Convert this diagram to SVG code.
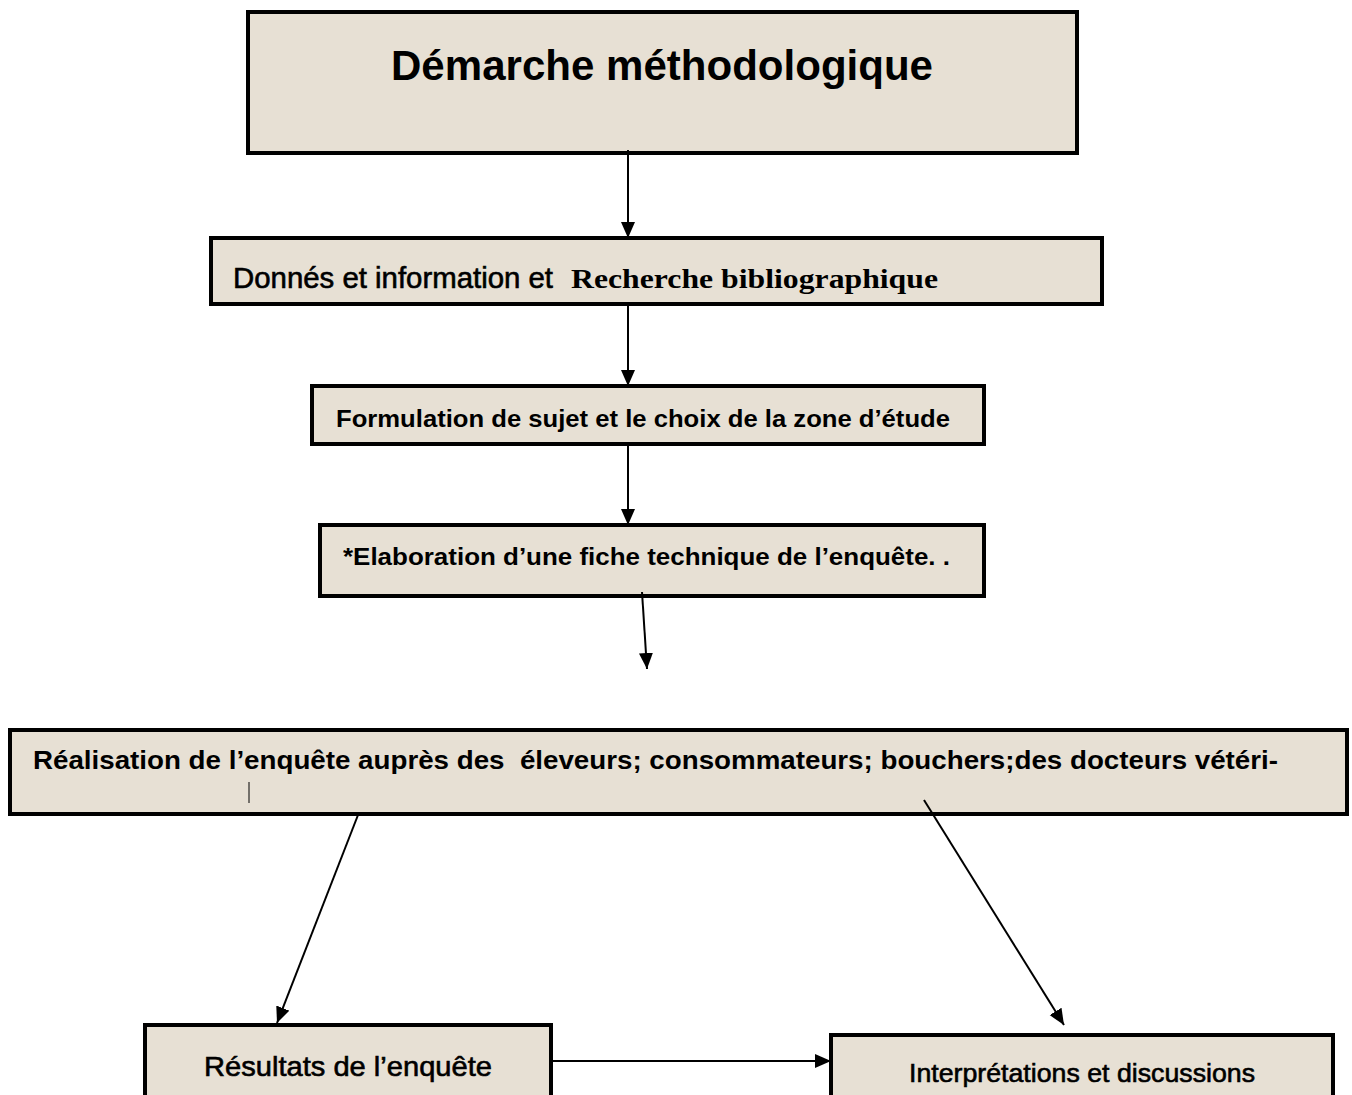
<svg xmlns="http://www.w3.org/2000/svg" width="1352" height="1095" viewBox="0 0 1352 1095">
<style>
.box{fill:#e7e0d4;stroke:#000;stroke-width:4}
.cal{font-family:"Liberation Sans","Open Sans",sans-serif;font-weight:bold;fill:#000}
.nar{font-family:"Liberation Sans",Arial,sans-serif;fill:#000;stroke:#000;stroke-width:0.6}
.tms{font-family:"Liberation Serif","Times New Roman",serif;font-weight:bold;fill:#000;stroke:none}
.con{stroke:#000;stroke-width:2;fill:none;marker-end:url(#ah)}
</style>
<defs>
<marker id="ah" markerUnits="userSpaceOnUse" markerWidth="18" markerHeight="16" refX="16" refY="7" orient="auto">
<path d="M0,0 L16,7 L0,14 Z" fill="#000"/>
</marker>
</defs>
<g id="n1"><rect class="box" x="248" y="12" width="829" height="141"/>
<text class="cal" x="391" y="80" font-size="43" textLength="542" lengthAdjust="spacingAndGlyphs">Démarche méthodologique</text></g>
<g id="n2"><rect class="box" x="211" y="238" width="891" height="66"/>
<text x="233" y="288"><tspan class="nar" font-size="29" textLength="320" lengthAdjust="spacingAndGlyphs">Donnés et information et</tspan><tspan class="tms" x="571" font-size="28" textLength="367" lengthAdjust="spacingAndGlyphs">Recherche bibliographique</tspan></text></g>
<g id="n3"><rect class="box" x="312" y="386" width="672" height="58"/>
<text class="cal" x="336" y="427" font-size="24" textLength="614" lengthAdjust="spacingAndGlyphs">Formulation de sujet et le choix de la zone d’étude</text></g>
<g id="n4"><rect class="box" x="320" y="525" width="664" height="71"/>
<text class="cal" x="343" y="565" font-size="24" textLength="607" lengthAdjust="spacingAndGlyphs">*Elaboration d’une fiche technique de l’enquête. .</text></g>
<g id="n5"><rect class="box" x="10" y="730" width="1337" height="84"/>
<text class="cal" x="33" y="769" font-size="25" textLength="1245" lengthAdjust="spacingAndGlyphs">Réalisation de l’enquête auprès des &#160;éleveurs; consommateurs; bouchers;des docteurs vétéri-</text>
<line x1="249" y1="782" x2="249" y2="803" stroke="#000" stroke-width="1"/></g>
<g id="n6"><rect class="box" x="145" y="1025" width="406" height="74"/>
<text class="nar" x="204" y="1076" font-size="28" textLength="288" lengthAdjust="spacingAndGlyphs">Résultats de l’enquête</text></g>
<g id="n7"><rect class="box" x="831" y="1035" width="502" height="64"/>
<text class="nar" x="909" y="1082" font-size="26" textLength="346" lengthAdjust="spacingAndGlyphs">Interprétations et discussions</text></g>
<g id="connectors">
<line class="con" x1="628" y1="150" x2="628" y2="238"/>
<line class="con" x1="628" y1="304" x2="628" y2="386"/>
<line class="con" x1="628" y1="444" x2="628" y2="525"/>
<line class="con" x1="642" y1="592" x2="647" y2="669"/>
<line class="con" x1="358" y1="815" x2="277" y2="1023"/>
<line class="con" x1="924" y1="800" x2="1064" y2="1025"/>
<line class="con" x1="551" y1="1061" x2="831" y2="1061"/>
</g>
</svg>
